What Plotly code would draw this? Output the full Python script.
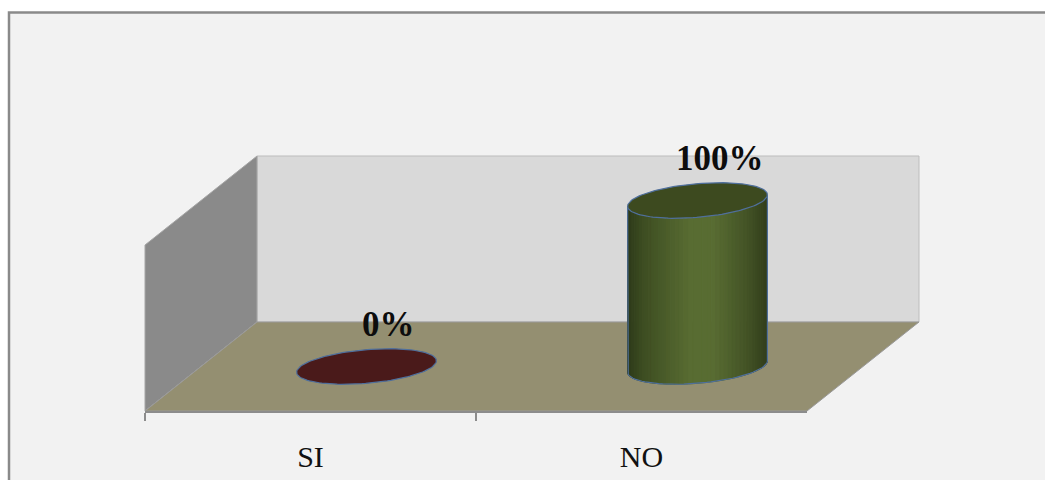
import numpy as np
import plotly.graph_objects as go

# ---------------- data ----------------
categories = ["SI", "NO"]
values = [0, 100]
value_labels = ["0%", "100%"]
top_colors = ["#4a1a1a", "#3d4a1f"]
y_max = 100

# ---------------- styling / projection ----------------
W, H = 1045, 480
PX_PER_CAT = 331.0      # px per category on the front edge
PX_PER_PCT = 1.66       # px per percentage unit
DEPTH_DX = 112.0        # px shift for full depth (x)
DEPTH_DY = 89.0         # px shift for full depth (y)
ORIGIN_X = 145.0        # px of front-left corner
ORIGIN_Y = 411.0        # px (from top) of floor front edge

KX = DEPTH_DX / PX_PER_CAT
KY = DEPTH_DY / PX_PER_PCT


def proj(X, Z, Y):
    X = np.asarray(X, dtype=float)
    Z = np.asarray(Z, dtype=float)
    Y = np.asarray(Y, dtype=float)
    return X + KX * Z, Y + KY * Z


fig = go.Figure()


def poly(X, Z, Y, fill, line_color=None, line_width=0):
    xs, ys = proj(X, Z, Y)
    xs = list(xs) + [xs[0]]
    ys = list(ys) + [ys[0]]
    fig.add_trace(go.Scatter(
        x=xs, y=ys, mode="lines", fill="toself", fillcolor=fill,
        line=dict(color=line_color or fill, width=line_width if line_color else 0.5),
        hoverinfo="skip", showlegend=False))


n_cat = len(categories)
# walls and floor
poly([0, n_cat, n_cat, 0], [1, 1, 1, 1], [0, 0, y_max, y_max], "#d9d9d9", "#bdbdbd", 1)
poly([0, 0, 0, 0], [0, 1, 1, 0], [0, 0, y_max, y_max], "#8a8a8a", "#a6a6a6", 1)
poly([0, n_cat, n_cat, 0], [0, 0, 1, 1], [0, 0, 0, 0], "#948f71", "#9a9a9a", 1)

# cylinders
R = 0.2
ZC = 0.5
tR = np.arctan(KX)
tL = tR + np.pi

stops_u = [0.0, 0.12, 0.45, 0.62, 0.85, 1.0]
stops_c = [(45, 58, 26), (62, 78, 34), (88, 108, 50), (88, 108, 50), (68, 84, 38), (50, 62, 28)]


def grad(u):
    c = [int(round(np.interp(u, stops_u, [s[k] for s in stops_c]))) for k in range(3)]
    return "rgb(%d,%d,%d)" % tuple(c)


OUTLINE = "#4f6f9c"

for i, (cat, v) in enumerate(zip(categories, values)):
    XC = i + 0.5

    def ring(t, Y):
        X = XC + R * np.cos(t)
        Z = ZC + R * np.sin(t)
        return proj(X, Z, np.full_like(np.asarray(t, dtype=float), Y))

    if v > 0:
        # body made of vertical strips for shading
        N = 48
        ts = np.linspace(tL, tR + 2 * np.pi, N + 1)
        bx, by = ring(ts, 0)
        xmin, xmax = bx.min(), bx.max()
        for k in range(N):
            x4 = [bx[k], bx[k + 1], bx[k + 1], bx[k], bx[k]]
            _, ty = ring(ts[k:k + 2], v)
            y4 = [by[k], by[k + 1], ty[1], ty[0], by[k]]
            u = ((bx[k] + bx[k + 1]) / 2 - xmin) / (xmax - xmin)
            col = grad(u)
            fig.add_trace(go.Scatter(
                x=x4, y=y4, mode="lines", fill="toself", fillcolor=col,
                line=dict(color=col, width=1), hoverinfo="skip", showlegend=False))
        # outline of body
        tx_l, ty_l = ring(np.array([tL]), v)
        tx_r, ty_r = ring(np.array([tR + 2 * np.pi]), v)
        ox = [tx_l[0]] + list(bx) + [tx_r[0]]
        oy = [ty_l[0]] + list(by) + [ty_r[0]]
        fig.add_trace(go.Scatter(x=ox, y=oy, mode="lines",
                                 line=dict(color=OUTLINE, width=1.2),
                                 hoverinfo="skip", showlegend=False))
    # top ellipse
    tt = np.linspace(0, 2 * np.pi, 121)
    ex, ey = ring(tt, v)
    fig.add_trace(go.Scatter(
        x=ex, y=ey, mode="lines", fill="toself", fillcolor=top_colors[i],
        line=dict(color=OUTLINE, width=1.2), hoverinfo="skip", showlegend=False))
    # value label above the back of the top
    lx, ly = proj(XC, ZC + R, v)
    fig.add_annotation(x=float(lx), y=float(ly), xref="x", yref="y",
                       text="<b>%s</b>" % value_labels[i], showarrow=False,
                       yanchor="bottom", xanchor="center", yshift=3,
                       font=dict(family="Liberation Serif", size=35, color="#0d0d0d"))

# category axis (separate thin subplot aligned with the floor front edge)
fig.add_trace(go.Scatter(x=categories, y=[0, 0], xaxis="x2", yaxis="y2",
                         mode="markers", marker=dict(opacity=0),
                         hoverinfo="skip", showlegend=False))

x_lo = -ORIGIN_X / PX_PER_CAT
x_hi = (W - ORIGIN_X) / PX_PER_CAT
y_lo = -(H - ORIGIN_Y) / PX_PER_PCT
y_hi = ORIGIN_Y / PX_PER_PCT

fig.update_layout(
    width=W, height=H,
    margin=dict(l=0, r=0, t=0, b=0),
    paper_bgcolor="white", plot_bgcolor="rgba(0,0,0,0)",
    xaxis=dict(range=[x_lo, x_hi], visible=False, fixedrange=True, domain=[0, 1]),
    yaxis=dict(range=[y_lo, y_hi], visible=False, fixedrange=True, domain=[0, 1]),
    xaxis2=dict(type="category", domain=[ORIGIN_X / W, (ORIGIN_X + n_cat * PX_PER_CAT) / W],
                anchor="y2", range=[-0.5, n_cat - 0.5], showline=True,
                linecolor="#8c8c8c", linewidth=2, ticks="outside", tickson="boundaries",
                ticklen=8, tickwidth=2, tickcolor="#8c8c8c", showgrid=False,
                zeroline=False, fixedrange=True, ticklabelstandoff=18,
                tickfont=dict(family="Liberation Serif", size=30, color="#111111")),
    yaxis2=dict(domain=[(H - ORIGIN_Y) / H, (H - ORIGIN_Y + 2) / H], anchor="x2",
                visible=False, fixedrange=True),
    shapes=[dict(type="rect", xref="paper", yref="paper",
                 x0=9 / W, x1=1.2, y0=-0.2, y1=(H - 12.5) / H,
                 fillcolor="#f2f2f2", line=dict(color="#8a8a8a", width=2.5),
                 layer="below")],
    showlegend=False,
)

fig.write_html("out.html")
